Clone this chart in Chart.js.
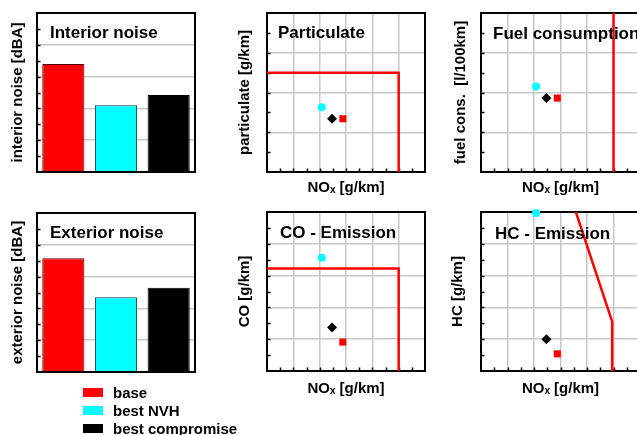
<!DOCTYPE html>
<html>
<head>
<meta charset="utf-8">
<script src="https://cdn.jsdelivr.net/npm/chart.js@4.4.0/dist/chart.umd.min.js"></script>
<style>
  html, body { margin: 0; padding: 0; background: #fff; overflow: hidden; width: 637px; height: 435px; }
  .panel { position: absolute; }
  #legend { position: absolute; left: 83px; top: 383px; font: bold 15px 'Liberation Sans', Arial, sans-serif; color: #000; }
  #legend .row { display: flex; align-items: center; height: 18px; }
  #legend .box { width: 20px; height: 9px; margin-right: 10px; }
</style>
</head>
<body>
<div class="panel" style="left:0;top:0"><canvas id="interior" width="200" height="200"></canvas></div>
<div class="panel" style="left:220px;top:0"><canvas id="particulate" width="211" height="200"></canvas></div>
<div class="panel" style="left:430px;top:0"><canvas id="fuel" width="215" height="200"></canvas></div>
<div class="panel" style="left:0;top:200px"><canvas id="exterior" width="200" height="200"></canvas></div>
<div class="panel" style="left:220px;top:200px"><canvas id="co" width="211" height="200"></canvas></div>
<div class="panel" style="left:430px;top:200px"><canvas id="hc" width="215" height="200"></canvas></div>
<div id="legend"></div>

<script>
// variants compared in every panel
const variants = ['base', 'best NVH', 'best compromise'];
const variantColors = ['#ff0000', '#00ffff', '#000000'];
const variantBorders = ['#5a0000', '#1a3a3a', '#000000'];
const variantShapes = ['rect', 'circle', 'rectRot'];
const variantRadius = [5, 4, 5];

// noise levels (relative scale, 0..10)
const interiorNoise = [6.8, 4.2, 4.85];
const exteriorNoise = [7.15, 4.7, 5.3];

// emissions / consumption vs NOx
const nox = [2.88, 2.08, 2.47];
const particulate = [1.34, 1.63, 1.34];
const fuelCons = [1.86, 2.15, 1.86];
const coEmission = [0.91, 3.56, 1.37];
const hcEmission = [0.54, 4.97, 1.0];

// limit curves
const particulateLimitX = [0, 5, 5];
const particulateLimitY = [2.5, 2.5, 0];
const fuelLimitX = [5, 5];
const fuelLimitY = [0, 4];
const coLimitX = [0, 5, 5];
const coLimitY = [3.22, 3.22, 0];
const hcLimitX = [3.58, 4.95, 4.95];
const hcLimitY = [5, 1.55, 0];

const FONT = "'Liberation Sans', Arial, sans-serif";
const GRID = 'rgb(200,200,200)';

// box border, inward tick marks and the panel title
const framePlugin = {
  id: 'frame',
  beforeDatasetsDraw(chart, args, opts) {
    const { ctx, chartArea: a, scales } = chart;
    ctx.save();
    ctx.strokeStyle = '#000';
    ctx.lineWidth = 1.5;
    ctx.beginPath();
    if (opts.yStep) {
      const s = scales.y;
      for (let v = s.min + opts.yStep; v < s.max - 1e-6; v += opts.yStep) {
        const y = Math.round(s.getPixelForValue(v)) + 0.5;
        ctx.moveTo(a.left, y);
        ctx.lineTo(a.left + 3.5, y);
      }
    }
    if (opts.xStep) {
      const s = scales.x;
      for (let v = s.min + opts.xStep; v < s.max - 1e-6; v += opts.xStep) {
        const x = Math.round(s.getPixelForValue(v)) + 0.5;
        ctx.moveTo(x, a.bottom);
        ctx.lineTo(x, a.bottom - 3.5);
      }
    }
    ctx.stroke();
    ctx.lineWidth = 2;
    ctx.strokeRect(a.left, a.top, a.width, a.height);
    ctx.restore();
  },
  afterDraw(chart, args, opts) {
    const { ctx, chartArea: a } = chart;
    ctx.save();
    ctx.fillStyle = '#000';
    ctx.font = 'bold 17px ' + FONT;
    ctx.textBaseline = 'alphabetic';
    ctx.fillText(opts.title, a.left + opts.dx, a.top + opts.dy);
    ctx.restore();
  }
};

function axisTitle(text, pad) {
  return { display: true, text: text, color: '#000', font: { family: FONT, size: 15, weight: 'bold' }, padding: pad };
}

function barChart(id, title, label, values) {
  return new Chart(document.getElementById(id), {
    type: 'bar',
    data: {
      labels: variants,
      datasets: [{
        data: values,
        backgroundColor: variantColors,
        borderColor: variantBorders,
        borderWidth: 1,
        categoryPercentage: 1,
        barPercentage: 0.8
      }]
    },
    options: {
      responsive: false,
      animation: false,
      devicePixelRatio: 1,
      layout: { padding: { top: 13, right: 5, bottom: 28, left: 0 }, autoPadding: false },
      plugins: {
        legend: { display: false },
        tooltip: { enabled: false },
        frame: { title: title, dx: 13, dy: 24.5, yStep: 1 }
      },
      scales: {
        x: { display: false },
        y: {
          min: 0, max: 10,
          ticks: { display: false, stepSize: 2 },
          grid: { color: GRID, lineWidth: 1.5, drawTicks: false },
          border: { display: false },
          title: axisTitle(label, { top: 9, bottom: 0 }),
          afterFit(s) { s.width = 37; }
        }
      }
    },
    plugins: [framePlugin]
  });
}

function scatterChart(cfg) {
  const datasets = variants.map((name, i) => ({
    label: name,
    data: [{ x: nox[i], y: cfg.values[i] }],
    pointStyle: variantShapes[i],
    pointRadius: variantRadius[i],
    backgroundColor: variantColors[i],
    borderWidth: 0,
    clip: false
  }));
  datasets.push({
    label: 'limit',
    data: cfg.limitX.map((x, i) => ({ x: x, y: cfg.limitY[i] })),
    showLine: true,
    pointRadius: 0,
    borderColor: '#ff0000',
    borderWidth: 2.5,
    fill: false
  });
  return new Chart(document.getElementById(cfg.id), {
    type: 'scatter',
    data: { datasets: datasets },
    options: {
      responsive: false,
      animation: false,
      devicePixelRatio: 1,
      layout: { padding: { top: cfg.top, right: cfg.right, bottom: 0, left: 0 }, autoPadding: false },
      plugins: {
        legend: { display: false },
        tooltip: { enabled: false },
        frame: { title: cfg.title, dx: cfg.dx, dy: cfg.dy, yStep: 0.5, xStep: 0.5 }
      },
      scales: {
        x: {
          type: 'linear', min: 0, max: 6,
          ticks: { display: false, stepSize: 1 },
          grid: { color: GRID, lineWidth: 1.5, drawTicks: false },
          border: { display: false },
          title: axisTitle('NOₓ [g/km]', { top: 0, bottom: cfg.xPad }),
          afterFit(s) { s.height = cfg.xHeight; }
        },
        y: {
          min: 0, max: cfg.yMax,
          ticks: { display: false, stepSize: 1 },
          grid: { color: GRID, lineWidth: 1.5, drawTicks: false },
          border: { display: false },
          title: axisTitle(cfg.label, { top: cfg.yPad, bottom: 0 }),
          afterFit(s) { s.width = cfg.yWidth; }
        }
      }
    },
    plugins: [framePlugin]
  });
}

barChart('interior', 'Interior noise', 'interior noise [dBA]', interiorNoise);
barChart('exterior', 'Exterior noise', 'exterior noise [dBA]', exteriorNoise);

scatterChart({ id: 'particulate', title: 'Particulate', label: 'particulate [g/km]', values: particulate,
  limitX: particulateLimitX, limitY: particulateLimitY, yMax: 4,
  top: 13, right: 6, yWidth: 47, xHeight: 28, yPad: 16, xPad: 3, dx: 11, dy: 24.5 });
scatterChart({ id: 'fuel', title: 'Fuel consumption', label: 'fuel cons.  [l/100km]', values: fuelCons,
  limitX: fuelLimitX, limitY: fuelLimitY, yMax: 4,
  top: 13, right: 5, yWidth: 51, xHeight: 28, yPad: 22, xPad: 3, dx: 12, dy: 25.5 });
scatterChart({ id: 'co', title: 'CO - Emission', label: 'CO [g/km]', values: coEmission,
  limitX: coLimitX, limitY: coLimitY, yMax: 5,
  top: 12, right: 6, yWidth: 47, xHeight: 29, yPad: 16, xPad: 2, dx: 13, dy: 26 });
scatterChart({ id: 'hc', title: 'HC - Emission', label: 'HC [g/km]', values: hcEmission,
  limitX: hcLimitX, limitY: hcLimitY, yMax: 5,
  top: 12, right: 5, yWidth: 51, xHeight: 29, yPad: 19, xPad: 2, dx: 14, dy: 27 });

// legend under the exterior noise bars
const legend = document.getElementById('legend');
variants.forEach((name, i) => {
  const row = document.createElement('div');
  row.className = 'row';
  const box = document.createElement('span');
  box.className = 'box';
  box.style.background = variantColors[i];
  const txt = document.createElement('span');
  txt.textContent = name;
  row.appendChild(box);
  row.appendChild(txt);
  legend.appendChild(row);
});
</script>
</body>
</html>
